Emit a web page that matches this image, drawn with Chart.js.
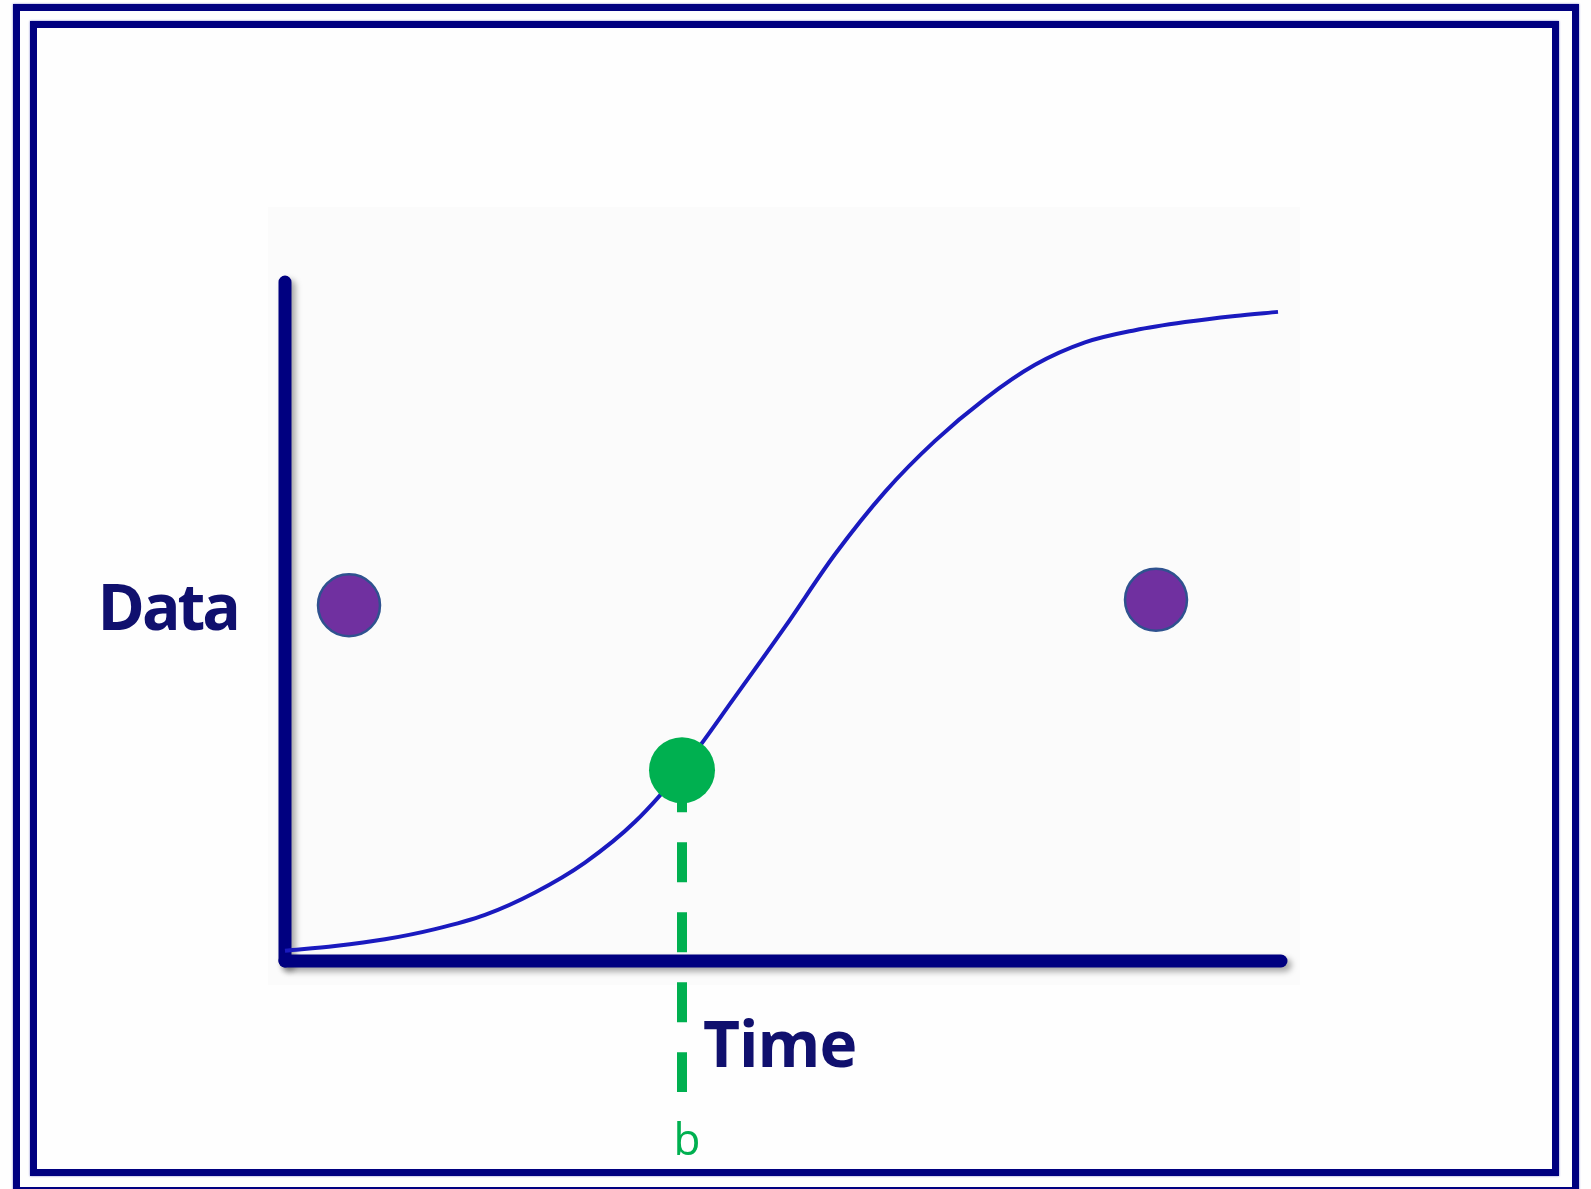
<!DOCTYPE html>
<html lang="en">
<head>
    <meta charset="UTF-8">
    <title>Growth curve</title>
    <script src="https://cdn.jsdelivr.net/npm/chart.js@4.4.1/dist/chart.umd.min.js"></script>
    <style>
        * {
            margin: 0;
            padding: 0;
            box-sizing: border-box;
        }

        body {
            width: 1591px;
            height: 1189px;
            overflow: hidden;
            background: #fefefe;
            position: relative;
        }

        .frame-outer {
            position: absolute;
            left: 13px;
            top: 4px;
            width: 1566px;
            height: 1190px;
            border: 7px solid #000080;
            box-shadow: 0 0 2px #8080d0;
        }

        .frame-inner {
            position: absolute;
            left: 30px;
            top: 21px;
            width: 1529px;
            height: 1155px;
            border: 7px solid #000080;
            box-shadow: 0 0 2px #8080d0;
        }

        .plot-bg {
            position: absolute;
            left: 268px;
            top: 207px;
            width: 1032px;
            height: 778px;
            background: #fbfbfb;
        }

        canvas {
            position: absolute;
            left: 0;
            top: 0;
        }
    </style>
</head>
<body>
    <div class="frame-outer"></div>
    <div class="frame-inner"></div>
    <div class="plot-bg"></div>
    <canvas id="curveChart" width="1591" height="1189"></canvas>

    <script>
        // S-curve (time 0-100, data 0-100)
        const curveTime = [0, 5, 10, 15, 20, 25, 30, 35, 40, 45, 50, 55, 60, 65, 70, 75, 80, 85, 90, 95, 99.3];
        const curveData = [1.5, 2.2, 3.2, 4.7, 6.8, 10.1, 14.5, 20.5, 28.8, 38.9, 49.2, 59.9, 69.1, 76.6, 82.8, 87.8, 91.1, 92.9, 94.1, 95.0, 95.6];

        // purple markers
        const purpleTime = [6.4, 87.1];
        const purpleData = [52.4, 53.2];

        // green marker on the curve and its drop line down to "b"
        const greenTime = [39.7];
        const greenData = [28.1];
        const dropTime = [39.7, 39.7];
        const dropData = [27.8, -19.3];

        // axes
        const axisXTime = [0, 99.6];
        const axisXData = [0, 0];
        const axisYTime = [0, 0];
        const axisYData = [100, 0];

        // text labels: [text, time, data, align]
        const labels = [
            ['Data', -4.7, 48.7, 'right'],
            ['Time', 41.8, -15.6, 'left'],
            ['b', 40.2, -28.6, 'center']
        ];

        const toPoints = (xs, ys) => xs.map((x, i) => ({ x: x, y: ys[i] }));

        const navy = '#000080';

        // soft shadow under the two axes
        const axisShadow = {
            id: 'axisShadow',
            beforeDatasetDraw(chart, args) {
                if (!chart.data.datasets[args.index].isAxis) return;
                const ctx = chart.ctx;
                ctx.save();
                ctx.shadowColor = 'rgba(0, 0, 0, 0.35)';
                ctx.shadowBlur = 6;
                ctx.shadowOffsetX = 4;
                ctx.shadowOffsetY = 4;
            },
            afterDatasetDraw(chart, args) {
                if (!chart.data.datasets[args.index].isAxis) return;
                chart.ctx.restore();
            }
        };

        const textLabels = {
            id: 'textLabels',
            afterDatasetsDraw(chart) {
                const ctx = chart.ctx;
                const xs = chart.scales.x;
                const ys = chart.scales.y;
                ctx.save();
                ctx.textBaseline = 'alphabetic';
                labels.forEach(([text, t, d, align]) => {
                    if (text === 'b') {
                        ctx.font = '44px "Open Sans"';
                        ctx.fillStyle = '#00B050';
                        ctx.letterSpacing = '0px';
                    } else {
                        ctx.font = 'bold 64px "Open Sans"';
                        ctx.fillStyle = '#10106e';
                        ctx.letterSpacing = text === 'Data' ? '-3px' : '-1px';
                    }
                    ctx.textAlign = align;
                    ctx.fillText(text, xs.getPixelForValue(t), ys.getPixelForValue(d));
                });
                ctx.restore();
            }
        };

        new Chart(document.getElementById('curveChart'), {
            type: 'line',
            data: {
                datasets: [{
                    label: 'purple',
                    data: toPoints(purpleTime, purpleData),
                    showLine: false,
                    pointRadius: 31,
                    pointBackgroundColor: '#7030A0',
                    pointBorderColor: '#2F528F',
                    pointBorderWidth: 2.5,
                    order: 1,
                    clip: false
                }, {
                    label: 'green',
                    data: toPoints(greenTime, greenData),
                    showLine: false,
                    pointRadius: 33,
                    pointBackgroundColor: '#00B050',
                    pointBorderColor: '#00B050',
                    pointBorderWidth: 0,
                    order: 2,
                    clip: false
                }, {
                    label: 'drop',
                    data: toPoints(dropTime, dropData),
                    borderColor: '#00B050',
                    borderWidth: 10,
                    borderDash: [40, 30],
                    borderCapStyle: 'butt',
                    pointRadius: 0,
                    order: 3,
                    clip: false
                }, {
                    label: 'curve',
                    data: toPoints(curveTime, curveData),
                    borderColor: '#1a1abf',
                    borderWidth: 4,
                    cubicInterpolationMode: 'monotone',
                    pointRadius: 0,
                    order: 4,
                    clip: false
                }, {
                    label: 'x axis',
                    isAxis: true,
                    data: toPoints(axisXTime, axisXData),
                    borderColor: navy,
                    borderWidth: 13,
                    borderCapStyle: 'round',
                    pointRadius: 0,
                    order: 5,
                    clip: false
                }, {
                    label: 'y axis',
                    isAxis: true,
                    data: toPoints(axisYTime, axisYData),
                    borderColor: navy,
                    borderWidth: 13,
                    borderCapStyle: 'round',
                    pointRadius: 0,
                    order: 6,
                    clip: false
                }]
            },
            options: {
                responsive: false,
                animation: false,
                events: [],
                layout: {
                    padding: { left: 285, right: 306, top: 282, bottom: 228 }
                },
                plugins: {
                    legend: { display: false },
                    tooltip: { enabled: false }
                },
                scales: {
                    x: { type: 'linear', min: 0, max: 100, display: false },
                    y: { type: 'linear', min: 0, max: 100, display: false }
                }
            },
            plugins: [axisShadow, textLabels]
        });
    </script>
</body>
</html>
